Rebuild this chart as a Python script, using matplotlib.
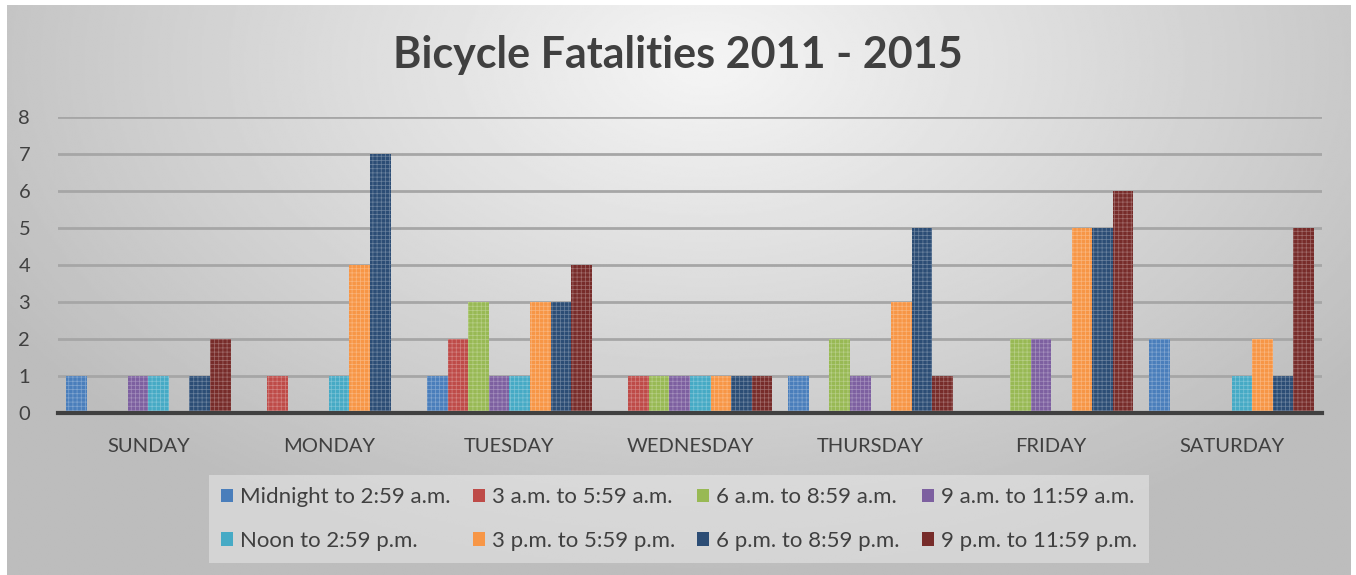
import matplotlib.pyplot as plt
import numpy as np

plt.rcParams['font.family'] = ['Lato', 'DejaVu Sans']
plt.rcParams['hatch.linewidth'] = 0.5

# Fatalities by day of week and time of day
days = ['SUNDAY', 'MONDAY', 'TUESDAY', 'WEDNESDAY', 'THURSDAY', 'FRIDAY', 'SATURDAY']
periods = ['Midnight to 2:59 a.m.', '3 a.m. to 5:59 a.m.', '6 a.m. to 8:59 a.m.',
           '9 a.m. to 11:59 a.m.', 'Noon to 2:59 p.m.', '3 p.m. to 5:59 p.m.',
           '6 p.m. to 8:59 p.m.', '9 p.m. to 11:59 p.m.']
midnight = [1, 0, 1, 0, 1, 0, 2]
am3 = [0, 1, 2, 1, 0, 0, 0]
am6 = [0, 0, 3, 1, 2, 2, 0]
am9 = [1, 0, 1, 1, 1, 2, 0]
noon = [1, 1, 1, 1, 0, 0, 1]
pm3 = [0, 4, 3, 1, 3, 5, 2]
pm6 = [1, 7, 3, 1, 5, 5, 1]
pm9 = [2, 0, 4, 1, 1, 6, 5]
series = [midnight, am3, am6, am9, noon, pm3, pm6, pm9]
colors = ['#4a7ebb', '#be4b48', '#98b954', '#7d60a0', '#46aac5', '#f79646', '#2c4d75', '#772c2a']

fig = plt.figure(figsize=(13.56, 5.75), dpi=100)

# soft grey radial background
bg = fig.add_axes([7 / 1356, 0, 1344 / 1356, 570 / 575], zorder=-10)
h, w = 300, 700
yy, xx = np.mgrid[0:h, 0:w]
r = np.sqrt(((xx - 0.52 * w) / (0.75 * w)) ** 2 + ((yy - 0.1 * h) / (1.1 * h)) ** 2)
shade = np.clip(0.96 - 0.27 * r, 0.74, 0.97)
bg.imshow(shade, cmap='gray', vmin=0, vmax=1, aspect='auto', interpolation='bilinear')
bg.axis('off')

ax = fig.add_axes([58 / 1356, 1 - 413 / 575, 1264 / 1356, 296 / 575])
ax.patch.set_alpha(0)

x = np.arange(len(days))
bw = 0.114
for i, (vals, c) in enumerate(zip(series, colors)):
    pos = x + (i - 3.5) * bw
    ax.bar(pos, vals, bw, color=c, edgecolor='none', zorder=3, label=periods[i])
    ax.bar(pos, vals, bw, fill=False, hatch='++++', edgecolor=(1, 1, 1, 0.3),
           linewidth=0, zorder=4)

ax.set_xlim(-0.5, len(days) - 0.5)
ax.set_ylim(0, 8)
ax.set_yticks(range(0, 9))
ax.set_xticks(x)
ax.set_xticklabels(days)
ax.yaxis.grid(True, color='#a6a6a6', linewidth=2, zorder=0)
ax.tick_params(length=0, labelsize=14.5, labelcolor='#404040')
ax.tick_params(axis='x', pad=18)
ax.tick_params(axis='y', pad=20)
for s in ['top', 'right', 'left']:
    ax.spines[s].set_visible(False)
ax.spines['bottom'].set_color('#404040')
ax.spines['bottom'].set_linewidth(3)
ax.spines['bottom'].set_zorder(5)

fig.text(0.5, 1 - 55 / 575, 'Bicycle Fatalities 2011 - 2015', ha='center', va='center',
         fontsize=31, fontweight='bold', color='#404040')

# legend fills row by row: reorder for matplotlib's column-first layout
handles, labels = ax.get_legend_handles_labels()
order = [0, 4, 1, 5, 2, 6, 3, 7]
leg = fig.legend([handles[k] for k in order], [labels[k] for k in order], ncol=4, loc='center',
                 bbox_to_anchor=(679 / 1356, 1 - 519 / 575),
                 fontsize=16, frameon=True, handlelength=0.55, handleheight=0.55,
                 handletextpad=0.3, columnspacing=1.0, labelspacing=1.05, borderpad=0.55)
leg.get_frame().set_facecolor('#ececec')
leg.get_frame().set_edgecolor('none')
leg.get_frame().set_alpha(0.5)
leg.get_frame().set_boxstyle('square', pad=0)
for t in leg.get_texts():
    t.set_color('#404040')

fig.savefig('out.png', dpi=100, facecolor='white')
